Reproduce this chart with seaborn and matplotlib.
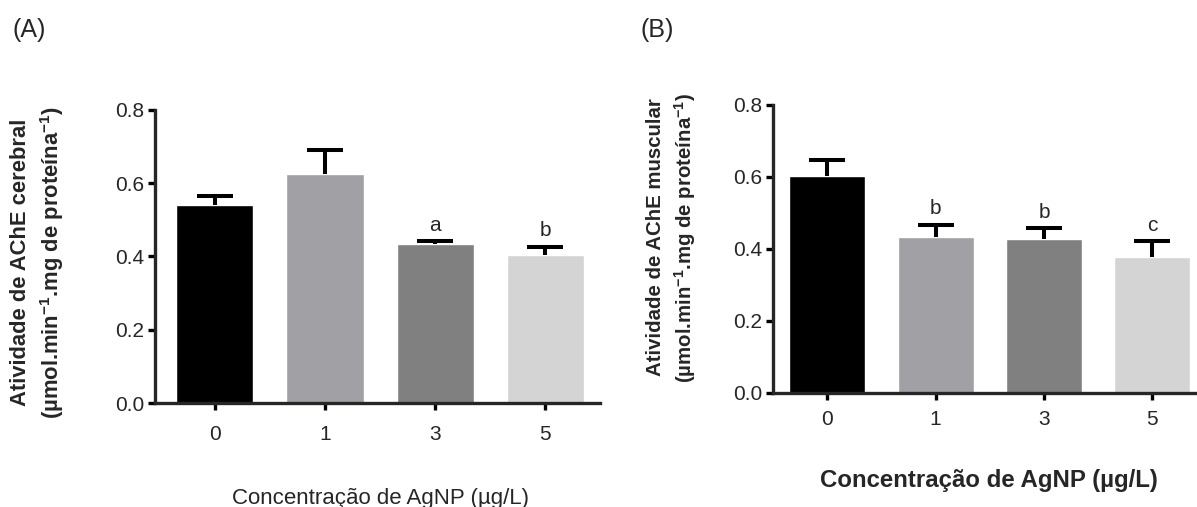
import matplotlib
matplotlib.use('Agg')
import matplotlib.pyplot as plt
import seaborn as sns

# data
conc = ['0', '1', '3', '5']
cerebral_mean = [0.540, 0.625, 0.435, 0.404]
cerebral_sem = [0.025, 0.067, 0.006, 0.022]
cerebral_letters = ['', '', 'a', 'b']
muscular_mean = [0.604, 0.434, 0.427, 0.378]
muscular_sem = [0.042, 0.034, 0.030, 0.044]
muscular_letters = ['', 'b', 'b', 'c']
bar_colors = ['#000000', '#a0a0a5', '#808080', '#d4d4d4']

sns.set_style('ticks')
plt.rcParams['font.family'] = ['Liberation Sans', 'DejaVu Sans']
plt.rcParams['mathtext.fontset'] = 'custom'
plt.rcParams['mathtext.rm'] = 'Liberation Sans'
plt.rcParams['mathtext.bf'] = 'Liberation Sans:bold'

fig = plt.figure(figsize=(11.97, 5.07), dpi=100)


def draw_panel(ax, means, sems, letters, ylabel, ylabel_size, xlabel_bold, xlabel_size, xlim, tick_pad):
    sns.barplot(x=conc, y=means, hue=conc, palette=bar_colors, legend=False,
                width=0.7, saturation=1, ax=ax, zorder=2)
    eb = ax.errorbar(range(len(conc)), means, yerr=[[0] * len(sems), sems], fmt='none',
                     ecolor='black', elinewidth=2.9, capsize=13, capthick=2.9, zorder=3)
    eb[1][0].set_visible(False)
    for i, (m, s, lab) in enumerate(zip(means, sems, letters)):
        if lab:
            ax.text(i, m + s + 0.018, lab, ha='center', va='bottom', fontsize=15)
    ax.set_ylim(0, 0.8)
    ax.set_xlim(*xlim)
    ax.set_yticks([0.0, 0.2, 0.4, 0.6, 0.8])
    ax.set_yticklabels(['0.0', '0.2', '0.4', '0.6', '0.8'])
    ax.spines['top'].set_visible(False)
    ax.spines['right'].set_visible(False)
    for sp in ['left', 'bottom']:
        ax.spines[sp].set_linewidth(2.4)
    ax.tick_params(axis='both', width=2.4, length=5, labelsize=15, color='black')
    ax.tick_params(axis='x', pad=tick_pad)
    ax.tick_params(axis='y', pad=3)
    ax.set_ylabel(ylabel, fontsize=ylabel_size, fontweight='bold', linespacing=1.35)
    ax.set_xlabel('Concentração de AgNP (µg/L)', fontsize=xlabel_size,
                  fontweight='bold' if xlabel_bold else 'normal')


ax1 = fig.add_axes([0.1295, 0.2051, 0.3718, 0.578])
draw_panel(ax1, cerebral_mean, cerebral_sem, cerebral_letters,
           'Atividade de AChE cerebral\n(µmol.min$^{\\mathbf{-1}}$.mg de proteína$^{\\mathbf{-1}}$)',
           15.8, False, 16, (-0.545, 3.5), 11)
ax1.yaxis.set_label_coords(-0.2, 0.48)
ax1.xaxis.set_label_coords(0.506, -0.29)

ax2 = fig.add_axes([0.6458, 0.2249, 0.354, 0.568])
draw_panel(ax2, muscular_mean, muscular_sem, muscular_letters,
           'Atividade de AChE muscular\n(µmol.min$^{\\mathbf{-1}}$.mg de proteína$^{\\mathbf{-1}}$)',
           14.7, True, 17.3, (-0.5, 3.41), 7)
ax2.yaxis.set_label_coords(-0.178, 0.54)
ax2.xaxis.set_label_coords(0.51, -0.265)

fig.text(13 / 1197, 1 - 30 / 507, '(A)', fontsize=18, va='center', ha='left')
fig.text(640 / 1197, 1 - 30 / 507, '(B)', fontsize=18, va='center', ha='left')

fig.savefig('out.png', dpi=100)
